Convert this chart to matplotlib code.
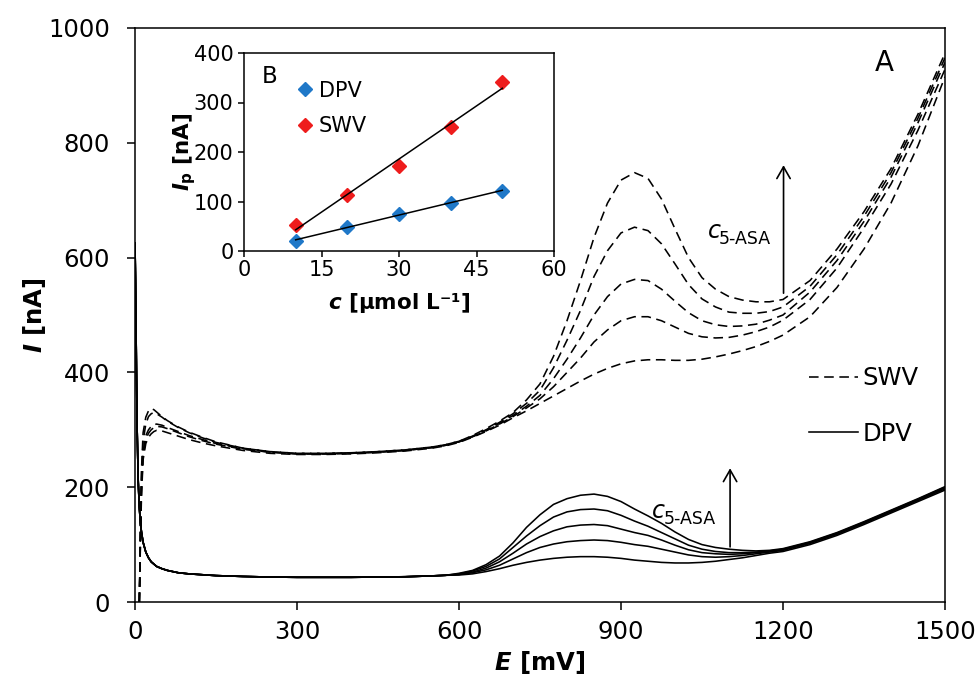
import numpy as np
import matplotlib
matplotlib.use("Agg")
import matplotlib.pyplot as plt

plt.rcParams['font.family'] = ['DejaVu Sans']
plt.rcParams['mathtext.fontset'] = 'custom'
plt.rcParams['mathtext.it'] = 'DejaVu Sans:italic:bold'
plt.rcParams['mathtext.rm'] = 'DejaVu Sans:bold'
plt.rcParams['mathtext.bf'] = 'DejaVu Sans:bold'

# ---------------- voltammograms (E in mV, I in nA) ----------------
# shared potential grid for the oxidation region
E_right = [600, 625, 650, 675, 700, 725, 750, 775, 800, 825, 850, 875, 900,
           925, 950, 975, 1000, 1025, 1050, 1075, 1100, 1125, 1150, 1175,
           1200, 1250, 1300, 1350, 1400, 1450, 1500]

# SWV: start of scan
swv_E_left = [8, 9, 10, 12, 15, 20, 25, 30, 35, 40, 50, 60, 80, 100, 125,
              150, 200, 250, 300, 350, 400, 450, 500, 550, 575]
swv1_left = [0, 45, 100, 185, 248, 276, 287, 293, 297, 299, 298, 295, 289,
             283, 277, 272, 264, 259, 257, 257, 258, 260, 263, 268, 272]
swv2_left = [0, 48, 105, 195, 255, 283, 294, 300, 304, 306, 305, 302, 295,
             288, 281, 275, 266, 261, 258, 258, 259, 261, 264, 269, 273]
swv3_left = [0, 50, 110, 200, 262, 290, 300, 306, 309, 310, 308, 304, 297,
             290, 283, 276, 267, 261, 258, 258, 259, 261, 264, 269, 273]
swv4_left = [0, 55, 120, 215, 280, 310, 323, 328, 330, 328, 322, 315, 304,
             295, 286, 278, 268, 262, 259, 259, 260, 262, 265, 270, 274]
swv5_left = [0, 60, 130, 230, 295, 322, 333, 337, 335, 331, 323, 316, 305,
             296, 287, 279, 268, 262, 259, 259, 260, 262, 265, 270, 274]

# SWV: 5-ASA oxidation peak and anodic background
swv1_right = [278, 287, 297, 308, 321, 333, 346, 359, 372, 385, 397, 407, 415,
              420, 422, 422, 421, 421, 423, 427, 432, 438, 445, 454, 465, 497,
              548, 615, 695, 795, 915]
swv2_right = [279, 288, 298, 310, 323, 338, 354, 375, 400, 425, 453, 474, 490,
              497, 497, 490, 479, 468, 462, 460, 461, 465, 471, 479, 491, 527,
              582, 652, 728, 822, 928]
swv3_right = [279, 288, 299, 311, 325, 341, 360, 389, 423, 460, 500, 532, 554,
              562, 560, 545, 524, 504, 490, 483, 480, 481, 484, 491, 500, 540,
              595, 663, 740, 835, 940]
swv4_right = [280, 289, 300, 313, 328, 346, 369, 408, 456, 508, 567, 612, 643,
              653, 647, 624, 589, 553, 528, 514, 505, 503, 503, 506, 514, 550,
              605, 672, 748, 843, 948]
swv5_right = [280, 290, 302, 315, 330, 352, 380, 428, 490, 560, 635, 695, 735,
              748, 738, 702, 650, 600, 565, 545, 532, 526, 523, 523, 527, 560,
              615, 680, 755, 850, 956]

# DPV: start of scan (common to all concentrations)
dpv_E_left = [0, 1, 2, 3, 4, 6, 8, 10, 12, 15, 20, 25, 30, 40, 50, 60, 80,
              100, 125, 150, 200, 250, 300, 350, 400, 450, 500, 550, 575]
dpv_left = [625, 560, 470, 380, 300, 210, 165, 138, 122, 104, 87, 77, 70, 62,
            58, 55, 51, 49, 47.5, 46, 44.5, 43.5, 43, 43, 43, 43.5, 44, 45.5,
            46.5]

# DPV: 5-ASA oxidation peak and anodic background
dpv1_right = [47, 49, 53, 58, 64, 69, 73, 76, 78, 79, 79, 78, 76, 73, 71, 69,
              68, 68, 69, 71, 74, 77, 81, 85, 88, 100, 116, 135, 155, 175, 195]
dpv2_right = [48, 51, 56, 64, 75, 86, 95, 101, 105, 107, 108, 107, 104, 100,
              97, 92, 87, 82, 79, 78, 79, 81, 84, 87, 90, 102, 118, 137, 157,
              177, 197]
dpv3_right = [48, 52, 59, 70, 85, 101, 114, 124, 131, 134, 135, 133, 127, 121,
              116, 108, 99, 91, 86, 84, 83, 84, 86, 88, 91, 103, 119, 138, 158,
              178, 199]
dpv4_right = [49, 54, 62, 75, 95, 115, 133, 148, 157, 161, 162, 159, 151, 141,
              132, 121, 110, 99, 92, 88, 86, 86, 87, 89, 92, 104, 120, 139, 159,
              179, 200]
dpv5_right = [50, 55, 65, 80, 103, 130, 152, 170, 180, 186, 188, 184, 175, 162,
              150, 137, 122, 109, 100, 95, 92, 90, 89, 90, 93, 105, 121, 140,
              160, 180, 201]

swv_left = [swv1_left, swv2_left, swv3_left, swv4_left, swv5_left]
swv_right = [swv1_right, swv2_right, swv3_right, swv4_right, swv5_right]
dpv_right = [dpv1_right, dpv2_right, dpv3_right, dpv4_right, dpv5_right]

# ---------------- calibration (inset) ----------------
conc = [10, 20, 30, 40, 50]          # µmol/L
ip_dpv = [21, 49, 74, 97, 122]       # nA
ip_swv = [52, 114, 171, 251, 341]    # nA

x_ticks = [0, 300, 600, 900, 1200, 1500]
y_ticks = [0, 200, 400, 600, 800, 1000]
in_x_ticks = [0, 15, 30, 45, 60]
in_y_ticks = [0, 100, 200, 300, 400]

# ---------------- figure ----------------
fig = plt.figure(figsize=(9.8, 6.8), dpi=100)
ax = fig.add_axes([135 / 980, 78 / 680, 810 / 980, 574 / 680])

dash = (0, (6, 3.5))
swv_lines = []
for left, right in zip(swv_left, swv_right):
    ln, = ax.plot(np.concatenate([swv_E_left, E_right]),
                  np.concatenate([left, right]),
                  color='black', lw=1.15, ls=dash)
    swv_lines.append(ln)

dpv_lines = []
for right in dpv_right:
    ln, = ax.plot(np.concatenate([dpv_E_left, E_right]),
                  np.concatenate([dpv_left, right]),
                  color='black', lw=1.15, ls='-')
    dpv_lines.append(ln)

ax.set_xlim(0, 1500)
ax.set_ylim(0, 1000)
ax.set_xticks(x_ticks)
ax.set_yticks(y_ticks)
ax.tick_params(axis='both', direction='out', length=6, width=1.1,
               labelsize=17.5, top=False, right=False)
ax.tick_params(axis='y', pad=12)
ax.tick_params(axis='x', pad=7)
for sp in ax.spines.values():
    sp.set_linewidth(1.1)

ax.set_xlabel(r'$E$ [mV]', fontsize=17.5, fontweight='bold')
ax.set_ylabel(r'$I$ [nA]', fontsize=17.5, fontweight='bold')
ax.xaxis.set_label_coords(0.5, -0.082)
ax.yaxis.set_label_coords(-0.108, 0.5)

ax.text(1387, 939, 'A', fontsize=20, ha='center', va='center')

arrow_style = dict(arrowstyle='->,head_length=0.7,head_width=0.4', lw=1.2,
                   color='black', shrinkA=0, shrinkB=0, mutation_scale=12)
ax.annotate('', xy=(1201, 761), xytext=(1201, 538), arrowprops=arrow_style)
ax.annotate('', xy=(1102, 233), xytext=(1102, 96), arrowprops=arrow_style)


def conc_label(e, i):
    """Italic c with the 5-ASA subscript, c ending at (e, i) on its baseline."""
    ax.text(e, i, 'c', fontsize=17, style='italic', ha='right', va='baseline')
    ax.annotate('5‐ASA', xy=(e, i), xytext=(-1.5, -4.5),
                textcoords='offset points', fontsize=12.5,
                ha='left', va='baseline')


conc_label(1085, 634)
conc_label(982, 146)

ax.legend([swv_lines[0], dpv_lines[0]], ['SWV', 'DPV'], loc='upper left',
          bbox_to_anchor=(0.832, 0.411), frameon=False, fontsize=17.5,
          handlelength=2.0, handletextpad=0.2, labelspacing=1.3,
          borderpad=0, borderaxespad=0)

# ---------------- inset B ----------------
ax_in = fig.add_axes([244 / 980, 429 / 680, 310 / 980, 198 / 680])
ax_in.set_facecolor('white')
ax_in.plot(conc, ip_dpv, 'D', color='#1f78c8', ms=7, label='DPV', zorder=2)
ax_in.plot(conc, ip_swv, 'D', color='#ee1c1c', ms=7, label='SWV', zorder=2)

ends = np.array([conc[0], conc[-1]])
for ip in (ip_dpv, ip_swv):
    k, q = np.polyfit(conc, ip, 1)
    ax_in.plot(ends, k * ends + q, color='black', lw=1.1, zorder=3)

ax_in.set_xlim(0, 60)
ax_in.set_ylim(0, 400)
ax_in.set_xticks(in_x_ticks)
ax_in.set_yticks(in_y_ticks)
ax_in.tick_params(axis='both', direction='out', length=4.5, width=1.1,
                  labelsize=15, top=False, right=False)
ax_in.tick_params(axis='y', pad=3)
ax_in.tick_params(axis='x', pad=2)
for sp in ax_in.spines.values():
    sp.set_linewidth(1.1)

ax_in.set_xlabel(r'$c$ [µmol L⁻¹]', fontsize=15.5, fontweight='bold')
ax_in.set_ylabel(r'$I_{\mathrm{p}}$ [nA]', fontsize=15.5, fontweight='bold')
ax_in.xaxis.set_label_coords(0.5, -0.2)
ax_in.yaxis.set_label_coords(-0.15, 0.5)

ax_in.text(0.084, 0.881, 'B', transform=ax_in.transAxes, fontsize=16.5,
           ha='center', va='center')
ax_in.legend(loc='upper left', bbox_to_anchor=(0.17, 0.86), frameon=False,
             fontsize=15, handlelength=0.8, handletextpad=0.25,
             labelspacing=0.75, borderpad=0, borderaxespad=0)

fig.savefig('out.png', dpi=100)
